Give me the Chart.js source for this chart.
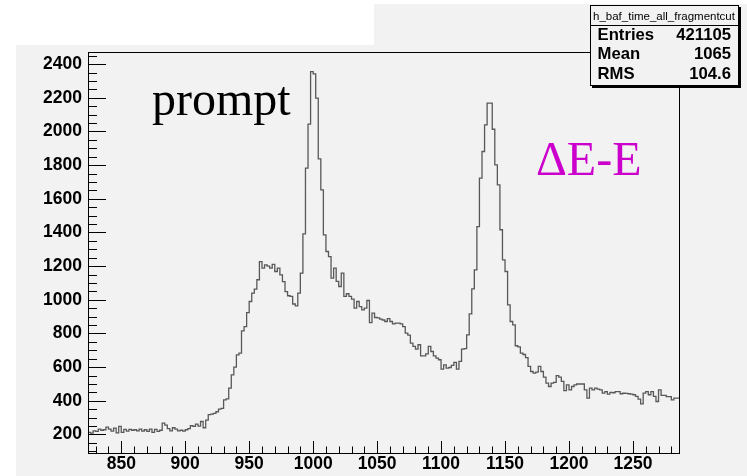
<!DOCTYPE html>
<html>
<head>
<meta charset="utf-8">
<script src="https://cdn.jsdelivr.net/npm/chart.js@4.4.0/dist/chart.umd.min.js"></script>
<style>
  html, body { margin: 0; padding: 0; background: #fff; }
  #wrap { width: 747px; height: 476px; }
</style>
</head>
<body>
<div id="wrap"><canvas id="bafTime" width="747" height="476"></canvas></div>
<script>
// h_baf_time_all_fragmentcut: 231 bins of width 2 starting at 824
const binLow = 824;
const binWidth = 2;
const counts = [
  212, 208, 222, 218, 232, 225, 228, 244, 232, 220,
  238, 210, 248, 212, 230, 220, 230, 225, 228, 222,
  232, 220, 228, 218, 232, 212, 230, 218, 225, 268,
  255, 235, 222, 240, 232, 222, 225, 220, 228, 235,
  252, 248, 262, 250, 277, 240, 285,
  318, 321, 325, 335, 351, 355, 406, 412, 475, 554, 600, 673, 683,
  816, 841, 924, 990, 1040, 1063, 1119, 1227, 1188, 1208,
  1200, 1188, 1210, 1168, 1188, 1148, 1108, 1049, 1024, 1020,
  975, 964, 1040, 1159, 1392, 1782, 2043, 2356, 2342, 2198,
  1837, 1653, 1386, 1287, 1257, 1129, 1188, 1109, 1079, 1158,
  1020, 1036, 1020, 1004, 951, 990, 960, 940, 951, 996,
  865, 921, 895, 893, 885, 880, 871, 888, 871, 857,
  862, 862, 857, 841, 802, 790, 743, 723, 707, 733,
  667, 667, 679, 723, 693, 667, 654, 644, 588, 614,
  594, 598, 610, 628, 588, 634, 707, 710, 792, 917,
  1065, 1178, 1435, 1723, 1881, 2039, 2168, 2168, 2013, 1802,
  1683, 1416, 1237, 1168, 970, 871, 851, 727, 720, 683,
  675, 657, 604, 574, 565, 570, 604, 574, 541, 505,
  485, 505, 510, 550, 541, 515, 461, 495, 465, 485,
  495, 500, 500, 500, 465, 416, 475, 465, 475, 470,
  465, 446, 455, 440, 450, 448, 455, 455, 442, 445,
  444, 442, 440, 436, 426, 410, 382, 446, 455, 436,
  455, 426, 396, 465, 432, 432, 425, 425, 406, 416, 416
];
const xTicks = [850, 900, 950, 1000, 1050, 1100, 1150, 1200, 1250];
const yTicks = [200, 400, 600, 800, 1000, 1200, 1400, 1600, 1800, 2000, 2200, 2400];
const yRange = [90, 2472];
const statsTitle = 'h_baf_time_all_fragmentcut';
const statsLabels = ['Entries', 'Mean', 'RMS'];
const statsValues = ['421105', '1065', '104.6'];

const padGrey = '#f2f2f2';
const tickFont = { family: 'Liberation Sans, Arial, sans-serif', size: 17.5, weight: 'bold', lineHeight: 1 };

// bin left edges plus the closing edge so the last bin gets its full width
const points = counts.map((c, i) => ({ x: binLow + i * binWidth, y: c }));
points.push({ x: binLow + counts.length * binWidth, y: counts[counts.length - 1] });

const rootFrame = {
  id: 'rootFrame',
  beforeDraw(chart) {
    const ctx = chart.ctx;
    ctx.save();
    ctx.fillStyle = '#ffffff';
    ctx.fillRect(0, 0, chart.width, chart.height);
    ctx.fillStyle = padGrey;
    ctx.fillRect(16, 45, chart.width - 16, chart.height - 45);
    ctx.fillRect(374, 4, chart.width - 374, 41);
    ctx.restore();
  },
  afterDraw(chart) {
    const { ctx, chartArea: a, scales: { x, y } } = chart;
    ctx.save();
    ctx.strokeStyle = '#000';
    ctx.lineWidth = 1;
    ctx.strokeRect(Math.round(a.left) + 0.5, Math.round(a.top) + 0.5,
      Math.round(a.right - a.left), Math.round(a.bottom - a.top));

    // tick marks point into the frame, ROOT style
    ctx.beginPath();
    for (let v = 100; v <= 2450; v += 50) {
      const p = Math.round(y.getPixelForValue(v)) + 0.5;
      if (p < a.top || p > a.bottom) continue;
      const len = yTicks.includes(v) ? 18 : 9;
      ctx.moveTo(a.left, p);
      ctx.lineTo(a.left + len, p);
    }
    for (let v = 830; v <= 1280; v += 10) {
      const p = Math.round(x.getPixelForValue(v)) + 0.5;
      const len = xTicks.includes(v) ? 12 : 6.5;
      ctx.moveTo(p, a.bottom);
      ctx.lineTo(p, a.bottom - len);
    }
    ctx.stroke();

    // annotations
    ctx.font = '48px "Liberation Serif", "Times New Roman", serif';
    ctx.textBaseline = 'alphabetic';
    ctx.textAlign = 'left';
    ctx.fillStyle = '#000';
    ctx.fillText('prompt', 152, 115);
    ctx.fillStyle = '#cc00cc';
    ctx.fillText('\u0394E-E', 536, 175);

    // statistics box
    const bx = 590, by = 5, bw = 148, bh = 80;
    ctx.fillStyle = '#000';
    ctx.fillRect(bx + 2, by + 2, bw + 1, bh + 1);
    ctx.fillStyle = padGrey;
    ctx.fillRect(bx, by, bw, bh);
    ctx.strokeRect(bx + 0.5, by + 0.5, bw, bh);
    ctx.beginPath();
    ctx.moveTo(bx, by + 20.5);
    ctx.lineTo(bx + bw, by + 20.5);
    ctx.stroke();
    ctx.fillStyle = '#000';
    ctx.font = '11.5px "Liberation Sans", Arial, sans-serif';
    ctx.textAlign = 'center';
    ctx.fillText(statsTitle, bx + bw / 2, 19.5);
    ctx.font = 'bold 16.7px "Liberation Sans", Arial, sans-serif';
    statsLabels.forEach((lab, i) => {
      const base = 39.5 + i * 19.8;
      ctx.textAlign = 'left';
      ctx.fillText(lab, 597.5, base);
      ctx.textAlign = 'right';
      ctx.fillText(statsValues[i], 731, base);
    });
    ctx.restore();
  }
};

new Chart(document.getElementById('bafTime'), {
  type: 'line',
  data: {
    datasets: [{
      data: points,
      stepped: 'before',
      borderColor: '#585858',
      borderWidth: 1.3,
      pointRadius: 0,
      fill: false,
      tension: 0
    }]
  },
  options: {
    responsive: false,
    animation: false,
    devicePixelRatio: 1,
    layout: { padding: { top: 52, right: 68, left: 0, bottom: 0 } },
    plugins: { legend: { display: false }, tooltip: { enabled: false } },
    scales: {
      x: {
        type: 'linear',
        min: binLow,
        max: binLow + counts.length * binWidth,
        grid: { display: false, drawTicks: false },
        border: { display: false },
        afterBuildTicks: s => { s.ticks = xTicks.map(v => ({ value: v })); },
        afterFit: s => { s.height = 23; },
        ticks: { color: '#000', font: tickFont, padding: 2, maxRotation: 0, autoSkip: false,
                 callback: v => String(v) }
      },
      y: {
        type: 'linear',
        min: yRange[0],
        max: yRange[1],
        grid: { display: false, drawTicks: false },
        border: { display: false },
        afterBuildTicks: s => { s.ticks = yTicks.map(v => ({ value: v })); },
        afterFit: s => { s.width = 88; },
        ticks: { color: '#000', font: tickFont, padding: 6, callback: v => String(v) }
      }
    }
  },
  plugins: [rootFrame]
});
</script>
</body>
</html>
